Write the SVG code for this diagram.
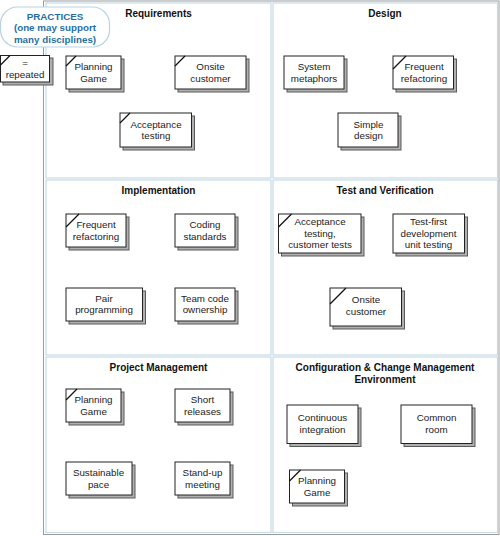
<svg xmlns="http://www.w3.org/2000/svg" width="500" height="536" viewBox="0 0 500 536">
<style>
.frame{fill:#fff;stroke:#9a9a9a;stroke-width:1}
.panel{fill:#fff;stroke:#c6dbe6;stroke-width:1.2}
.title{font-family:"Liberation Sans",Arial,sans-serif;font-size:10px;font-weight:bold;fill:#111;text-anchor:middle}
.box{fill:#fff;stroke:#222;stroke-width:1}
.shadow{fill:#b0b0b0;stroke:#5a5a5a;stroke-width:1}
.diag{stroke:#111;stroke-width:1.2}
.lbl{font-family:"Liberation Sans",Arial,sans-serif;font-size:9.8px;fill:#222;text-anchor:middle}
.pill{fill:#fff;stroke:#b9d3e0;stroke-width:1.2}
.ptxt{font-family:"Liberation Sans",Arial,sans-serif;font-size:9.8px;font-weight:bold;fill:#1f6fa3;text-anchor:middle}
</style>
<rect x="0" y="0" width="500" height="536" fill="#fff"/>
<rect class="frame" x="43.5" y="1" width="455.5" height="533.5"/>
<g id="panels">
<rect class="panel" x="46" y="3" width="225" height="175"/>
<rect class="panel" x="273" y="3" width="224.5" height="175"/>
<rect class="panel" x="46" y="180" width="225" height="175"/>
<rect class="panel" x="273" y="180" width="224.5" height="175"/>
<rect class="panel" x="46" y="357" width="225" height="175.5"/>
<rect class="panel" x="273" y="357" width="224.5" height="175.5"/>
<text class="title" x="158.5" y="17">Requirements</text>
<text class="title" x="385" y="17">Design</text>
<text class="title" x="158.5" y="193.5">Implementation</text>
<text class="title" x="385" y="193.5">Test and Verification</text>
<text class="title" x="158.5" y="371">Project Management</text>
<text class="title" x="385" y="371">Configuration &amp; Change Management</text>
<text class="title" x="385" y="383">Environment</text>
</g>
<g id="legend">
<rect class="pill" x="0.5" y="7" width="109" height="40" rx="17"/>
<text class="ptxt" x="55" y="19.5">PRACTICES</text>
<text class="ptxt" x="55" y="31">(one may support</text>
<text class="ptxt" x="55" y="42.5">many disciplines)</text>
</g>
<g id="repeated">
<rect class="shadow" x="3" y="58" width="50" height="27"/>
<rect class="box" x="0.5" y="55.5" width="49" height="26.5"/>
<line class="diag" x1="0.5" y1="65" x2="10" y2="55.5"/>
<text class="lbl" x="25" y="66">=</text>
<text class="lbl" x="25" y="77.5">repeated</text>
</g>
<g id="connectors"></g>
<g id="req-planning">
<rect class="shadow" x="69" y="59" width="55" height="33"/>
<rect class="box" x="66" y="56" width="55" height="33"/>
<line class="diag" x1="66" y1="66" x2="76" y2="56"/>
<text class="lbl" x="93.5" y="70">Planning</text>
<text class="lbl" x="93.5" y="81.5">Game</text>
</g>
<g id="req-onsite">
<rect class="shadow" x="178" y="59" width="71" height="33"/>
<rect class="box" x="175" y="56" width="71" height="33"/>
<line class="diag" x1="175" y1="66" x2="185" y2="56"/>
<text class="lbl" x="210.5" y="70">Onsite</text>
<text class="lbl" x="210.5" y="81.5">customer</text>
</g>
<g id="req-acceptance">
<rect class="shadow" x="123" y="116" width="71.5" height="34"/>
<rect class="box" x="120" y="113" width="71.5" height="34"/>
<line class="diag" x1="120" y1="123" x2="130" y2="113"/>
<text class="lbl" x="156" y="127.5">Acceptance</text>
<text class="lbl" x="156" y="139">testing</text>
</g>
<g id="des-metaphors">
<rect class="shadow" x="287" y="59" width="60" height="33"/>
<rect class="box" x="284" y="56" width="60" height="33"/>
<text class="lbl" x="314" y="70">System</text>
<text class="lbl" x="314" y="81.5">metaphors</text>
</g>
<g id="des-refactoring">
<rect class="shadow" x="396" y="59" width="60.5" height="33"/>
<rect class="box" x="393" y="56" width="60.5" height="33"/>
<line class="diag" x1="393" y1="69" x2="406" y2="56"/>
<text class="lbl" x="424" y="70">Frequent</text>
<text class="lbl" x="424" y="81.5">refactoring</text>
</g>
<g id="des-simple">
<rect class="shadow" x="341" y="116" width="60" height="34"/>
<rect class="box" x="338" y="113" width="60" height="34"/>
<text class="lbl" x="368.5" y="127.5">Simple</text>
<text class="lbl" x="368.5" y="139">design</text>
</g>
<g id="imp-refactoring">
<rect class="shadow" x="69" y="217" width="60" height="33"/>
<rect class="box" x="66" y="214" width="60" height="33"/>
<line class="diag" x1="66" y1="227" x2="79" y2="214"/>
<text class="lbl" x="96" y="228">Frequent</text>
<text class="lbl" x="96" y="239.5">refactoring</text>
</g>
<g id="imp-coding">
<rect class="shadow" x="178" y="217" width="60" height="33"/>
<rect class="box" x="175" y="214" width="60" height="33"/>
<text class="lbl" x="205" y="228">Coding</text>
<text class="lbl" x="205" y="239.5">standards</text>
</g>
<g id="imp-pair">
<rect class="shadow" x="69" y="291" width="76.5" height="33"/>
<rect class="box" x="66" y="288" width="76.5" height="33"/>
<text class="lbl" x="104" y="301.5">Pair</text>
<text class="lbl" x="104" y="313">programming</text>
</g>
<g id="imp-team">
<rect class="shadow" x="178" y="291" width="60" height="33"/>
<rect class="box" x="175" y="288" width="60" height="33"/>
<text class="lbl" x="205" y="301.5">Team code</text>
<text class="lbl" x="205" y="313">ownership</text>
</g>
<g id="tv-acceptance">
<rect class="shadow" x="281.5" y="217" width="82.5" height="39"/>
<rect class="box" x="278.5" y="214" width="82.5" height="39"/>
<line class="diag" x1="278.5" y1="227" x2="291.5" y2="214"/>
<text class="lbl" x="320" y="225">Acceptance</text>
<text class="lbl" x="320" y="236.5">testing,</text>
<text class="lbl" x="320" y="248">customer tests</text>
</g>
<g id="tv-testfirst">
<rect class="shadow" x="396" y="217" width="71.5" height="39"/>
<rect class="box" x="393" y="214" width="71.5" height="39"/>
<text class="lbl" x="428.5" y="225">Test-first</text>
<text class="lbl" x="428.5" y="236.5">development</text>
<text class="lbl" x="428.5" y="248">unit testing</text>
</g>
<g id="tv-onsite">
<rect class="shadow" x="333" y="291" width="71.5" height="38"/>
<rect class="box" x="330" y="288" width="71.5" height="38"/>
<line class="diag" x1="330" y1="304" x2="346" y2="288"/>
<text class="lbl" x="366" y="303">Onsite</text>
<text class="lbl" x="366" y="314.5">customer</text>
</g>
<g id="pm-planning">
<rect class="shadow" x="69" y="392" width="55" height="33"/>
<rect class="box" x="66" y="389" width="55" height="33"/>
<line class="diag" x1="66" y1="400" x2="77" y2="389"/>
<text class="lbl" x="93.5" y="403">Planning</text>
<text class="lbl" x="93.5" y="414.5">Game</text>
</g>
<g id="pm-short">
<rect class="shadow" x="178" y="392" width="55" height="33"/>
<rect class="box" x="175" y="389" width="55" height="33"/>
<text class="lbl" x="202.5" y="403">Short</text>
<text class="lbl" x="202.5" y="414.5">releases</text>
</g>
<g id="pm-sustainable">
<rect class="shadow" x="69" y="465" width="66" height="33"/>
<rect class="box" x="66" y="462" width="66" height="33"/>
<text class="lbl" x="98.5" y="476">Sustainable</text>
<text class="lbl" x="98.5" y="487.5">pace</text>
</g>
<g id="pm-standup">
<rect class="shadow" x="178" y="465" width="55" height="33"/>
<rect class="box" x="175" y="462" width="55" height="33"/>
<text class="lbl" x="202.5" y="476">Stand-up</text>
<text class="lbl" x="202.5" y="487.5">meeting</text>
</g>
<g id="cm-continuous">
<rect class="shadow" x="290" y="408" width="71" height="38.5"/>
<rect class="box" x="287" y="405" width="71" height="38.5"/>
<text class="lbl" x="322.5" y="421">Continuous</text>
<text class="lbl" x="322.5" y="432.5">integration</text>
</g>
<g id="cm-common">
<rect class="shadow" x="404" y="408" width="71" height="38.5"/>
<rect class="box" x="401" y="405" width="71" height="38.5"/>
<text class="lbl" x="436.5" y="421">Common</text>
<text class="lbl" x="436.5" y="432.5">room</text>
</g>
<g id="cm-planning">
<rect class="shadow" x="292.5" y="473" width="55" height="33"/>
<rect class="box" x="289.5" y="470" width="55" height="33"/>
<line class="diag" x1="289.5" y1="481" x2="300.5" y2="470"/>
<text class="lbl" x="317" y="484">Planning</text>
<text class="lbl" x="317" y="495.5">Game</text>
</g>
</svg>
